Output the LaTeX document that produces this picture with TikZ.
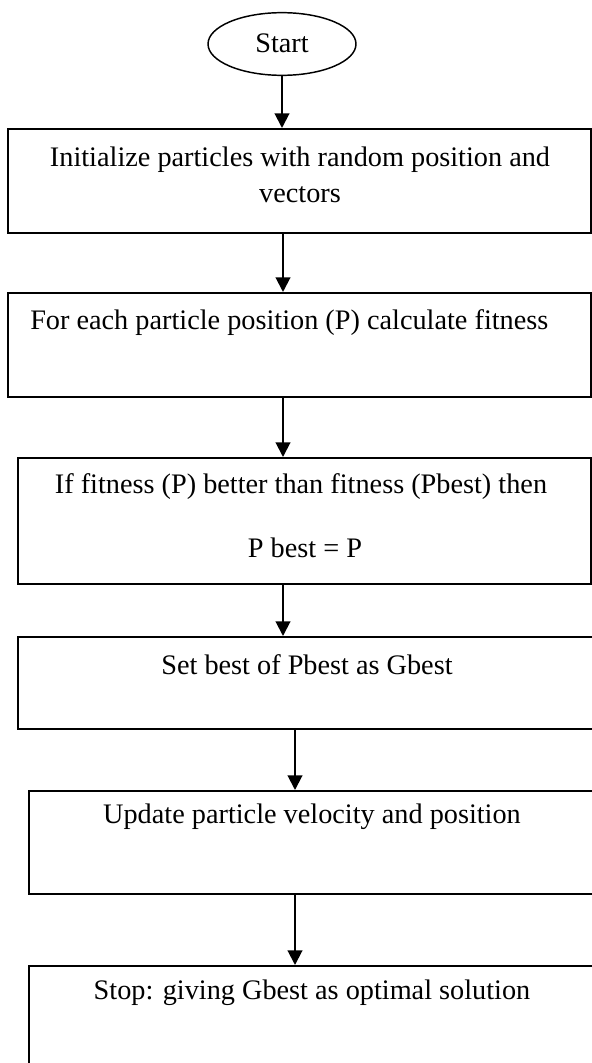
\documentclass[tikz,border=0pt]{standalone}
\usepackage{fontspec}
\setmainfont{Liberation Serif}
\usetikzlibrary{arrows.meta,shapes.geometric}
\begin{document}
\begin{tikzpicture}[x=0.75pt,y=-0.75pt,
  flowbox/.style={draw,line width=1.5pt,rectangle,inner sep=0pt},
  lbl/.style={font=\fontsize{21.2}{27}\selectfont,inner sep=0pt,align=center},
  link/.style={line width=1.5pt,-{Triangle[length=11pt,width=11pt]}}]
\useasboundingbox (0,0) rectangle (592,1063);
\clip (0,0) rectangle (592,1063);
\fill[white] (0,0) rectangle (592,1063);

% arrow columns
\coordinate (colA) at (283,0);
\coordinate (colB) at (295,0);

% terminal
\node[draw,ellipse,line width=1.1pt,inner sep=0pt,minimum width=111pt,minimum height=47pt] (start) at (282,44) {};
\node[lbl] (tstart) at (282,43) {Start};

% process boxes
\node[flowbox,minimum width=437.25pt,minimum height=78pt] (b1) at (299.5,181) {};
\node[flowbox,minimum width=437.25pt,minimum height=78pt] (b2) at (299.5,345) {};
\node[flowbox,minimum width=429.75pt,minimum height=94.5pt] (b3) at (304.5,521) {};
\node[flowbox,minimum width=436.5pt,minimum height=69pt] (b4) at (309,683) {};
\node[flowbox,minimum width=428.25pt,minimum height=77.25pt] (b5) at (314.5,842.5) {};
\node[flowbox,minimum width=428.25pt,minimum height=85.5pt] (b6) at (314.5,1023) {};

% box texts
\node[lbl] (t1) at (300,175) {Initialize particles with random position and\\vectors};
\node[lbl,anchor=west] (t2) at (30,323) {For each particle position (P) calculate fitness};
\node[lbl] (t3) at (301,487) {If fitness (P) better than fitness (Pbest) then};
\node[lbl] (t3b) at (305,548) {P best = P};
\node[lbl] (t4) at (307,665) {Set best of Pbest as Gbest};
\node[lbl] (t5) at (312,817) {Update particle velocity and position};
\node[lbl] (t6) at (312,993) {Stop: giving Gbest as optimal solution};

% connectors
\draw[link] (start.south) -- (start.south |- b1.north);
\draw[link] (b1.south -| colA) -- (b2.north -| colA);
\draw[link] (b2.south -| colA) -- (b3.north -| colA);
\draw[link] (b3.south -| colA) -- (b4.north -| colA);
\draw[link] (b4.south -| colB) -- (b5.north -| colB);
\draw[link] (b5.south -| colB) -- (b6.north -| colB);
\end{tikzpicture}
\end{document}
